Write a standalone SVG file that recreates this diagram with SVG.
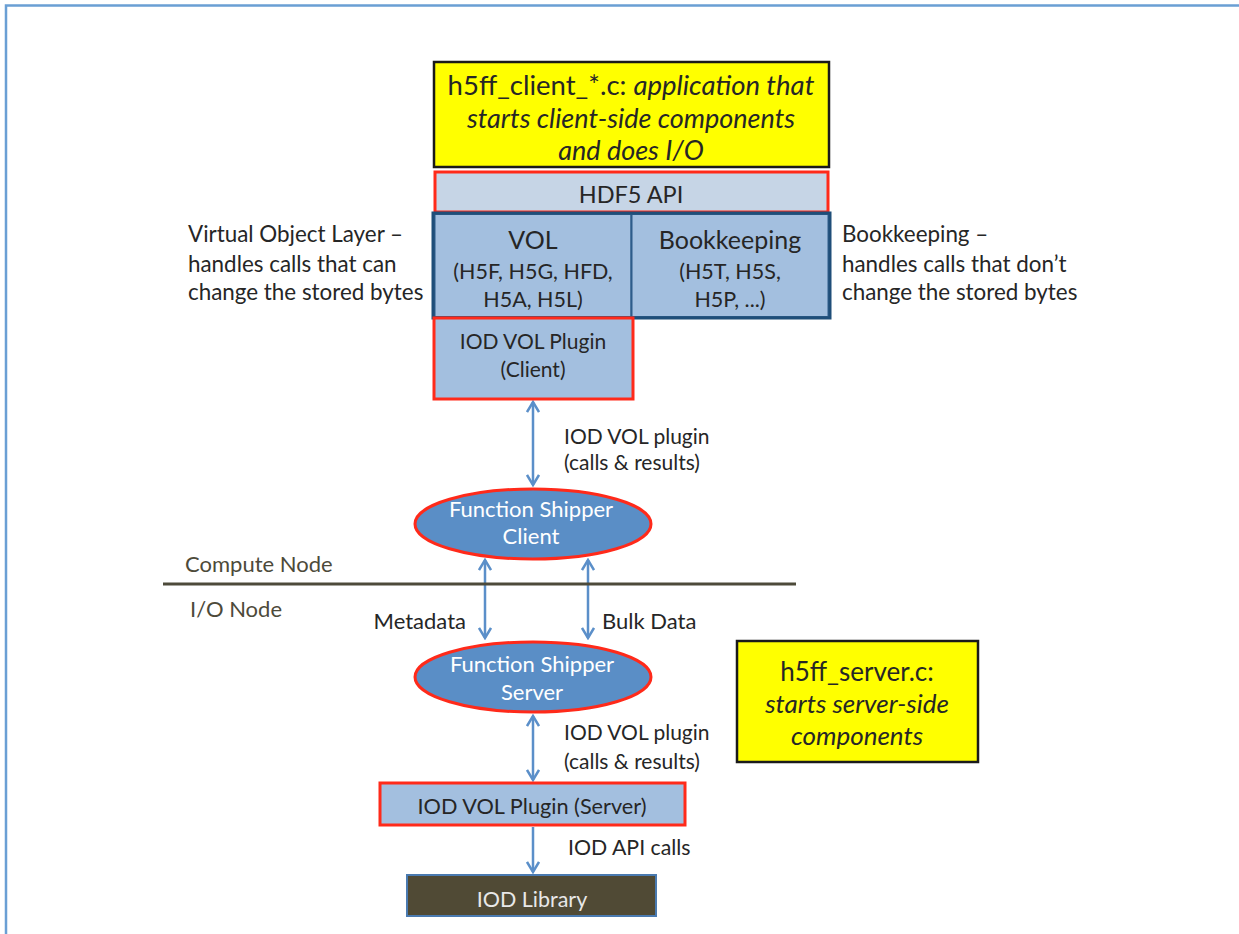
<svg xmlns="http://www.w3.org/2000/svg" width="1239" height="934" viewBox="0 0 1239 934">
<defs>
<style>
text{font-family:Lato,"Open Sans","Liberation Sans",sans-serif;fill:#262626}
.c{text-anchor:middle}
.i{font-style:italic}
.w{fill:#ffffff}
.g{fill:#4d4a3a}
.yel{fill:#ffff00;stroke:#1a1a1a;stroke-width:2.5}
.red{stroke:#ff2a1a;stroke-width:3}
.conn{stroke:#5b8fc9;stroke-width:2.5;fill:none}
</style>
<marker id="ah" viewBox="0 0 14 14" refX="12" refY="7" markerWidth="14" markerHeight="14" markerUnits="userSpaceOnUse" orient="auto-start-reverse">
<polyline points="2,1 12,7 2,13" fill="none" stroke="#5b8fc9" stroke-width="2.5"/>
</marker>
</defs>
<rect width="1239" height="934" fill="#ffffff"/>
<g id="frame">
<path d="M6,934 V5.5 H1239" fill="none" stroke="#6a9fd4" stroke-width="2.5"/>
</g>
<g id="connectors">
<line class="conn" x1="533" y1="402" x2="533" y2="485" marker-start="url(#ah)" marker-end="url(#ah)"/>
<line class="conn" x1="485" y1="560" x2="485" y2="638" marker-start="url(#ah)" marker-end="url(#ah)"/>
<line class="conn" x1="588" y1="560" x2="588" y2="638" marker-start="url(#ah)" marker-end="url(#ah)"/>
<line class="conn" x1="533" y1="716" x2="533" y2="780" marker-start="url(#ah)" marker-end="url(#ah)"/>
<line class="conn" x1="533" y1="827" x2="533" y2="872" marker-end="url(#ah)"/>
</g>
<g id="client-app">
<rect class="yel" x="434" y="62" width="395" height="105"/>
<text class="c" x="631" y="95" font-size="27.5">h5ff_client_*.c: <tspan class="i">application that</tspan></text>
<text class="c i" x="631" y="128" font-size="27">starts client-side components</text>
<text class="c i" x="631" y="160" font-size="27">and does I/O</text>
</g>
<g id="hdf5-api">
<rect class="red" x="435" y="172" width="393" height="40" fill="#c6d5e6"/>
<text class="c" x="631" y="203" font-size="23.5">HDF5 API</text>
</g>
<g id="vol">
<rect x="434.5" y="214" width="197" height="103" fill="#a3bfdf" stroke="#2e5c8a" stroke-width="2"/>
<text class="c" x="533" y="249" font-size="25">VOL</text>
<text class="c" x="533" y="279" font-size="21.5">(H5F, H5G, HFD,</text>
<text class="c" x="533" y="307" font-size="21.5">H5A, H5L)</text>
</g>
<g id="bookkeeping">
<rect x="631.5" y="214" width="197" height="103" fill="#a3bfdf" stroke="#2e5c8a" stroke-width="2"/>
<text class="c" x="730" y="249" font-size="25">Bookkeeping</text>
<text class="c" x="730" y="279" font-size="21.5">(H5T, H5S,</text>
<text class="c" x="730" y="307" font-size="21.5">H5P, ...)</text>
</g>
<rect x="433" y="213" width="397" height="105" fill="none" stroke="#1f4e79" stroke-width="3"/>
<g id="vol-label">
<text x="188" y="242" font-size="22.4">Virtual Object Layer –</text>
<text x="188" y="272" font-size="22.4">handles calls that can</text>
<text x="188" y="300" font-size="22.4">change the stored bytes</text>
</g>
<g id="bookkeeping-label">
<text x="842" y="242" font-size="22.4">Bookkeeping –</text>
<text x="842" y="272" font-size="22.4">handles calls that don’t</text>
<text x="842" y="300" font-size="22.4">change the stored bytes</text>
</g>
<g id="plugin-client">
<rect class="red" x="434" y="318" width="199" height="81" fill="#a3bfdf"/>
<text class="c" x="533" y="349" font-size="21">IOD VOL Plugin</text>
<text class="c" x="533" y="377" font-size="21">(Client)</text>
</g>
<g id="label-plugin-1">
<text x="564" y="444" font-size="21">IOD VOL plugin</text>
<text x="564" y="470" font-size="21">(calls &amp; results)</text>
</g>
<g id="fs-client">
<ellipse class="red" cx="533" cy="524" rx="118" ry="35" fill="#5a8ec6"/>
<text class="c w" x="531" y="517" font-size="22">Function Shipper</text>
<text class="c w" x="531" y="544" font-size="22">Client</text>
</g>
<g id="node-divider">
<line x1="163" y1="584" x2="796" y2="584" stroke="#4d4a3a" stroke-width="3"/>
<text class="g" x="185" y="572" font-size="22">Compute Node</text>
<text class="g" x="190" y="617" font-size="22">I/O Node</text>
</g>
<g id="label-metadata">
<text x="466" y="629" font-size="22" text-anchor="end">Metadata</text>
</g>
<g id="label-bulk">
<text x="602" y="629" font-size="22">Bulk Data</text>
</g>
<g id="fs-server">
<ellipse class="red" cx="533" cy="677" rx="118" ry="35" fill="#5a8ec6"/>
<text class="c w" x="532" y="672" font-size="22">Function Shipper</text>
<text class="c w" x="532" y="700" font-size="22">Server</text>
</g>
<g id="server-app">
<rect class="yel" x="737" y="641" width="241" height="121"/>
<text class="c" x="857" y="681" font-size="26">h5ff_server.c:</text>
<text class="c i" x="857" y="713" font-size="26">starts server-side</text>
<text class="c i" x="857" y="745" font-size="26">components</text>
</g>
<g id="label-plugin-2">
<text x="564" y="740" font-size="21">IOD VOL plugin</text>
<text x="564" y="769" font-size="21">(calls &amp; results)</text>
</g>
<g id="plugin-server">
<rect class="red" x="380" y="783" width="305" height="42" fill="#a3bfdf"/>
<text class="c" x="532" y="814" font-size="21.7">IOD VOL Plugin (Server)</text>
</g>
<g id="label-api">
<text x="568" y="855" font-size="21.3">IOD API calls</text>
</g>
<g id="iod-library">
<rect x="407" y="875" width="249" height="41" fill="#504a35" stroke="#4a7ab0" stroke-width="2"/>
<text class="c" x="532" y="907" font-size="21.5" style="fill:#e8e8e8">IOD Library</text>
</g>
</svg>
